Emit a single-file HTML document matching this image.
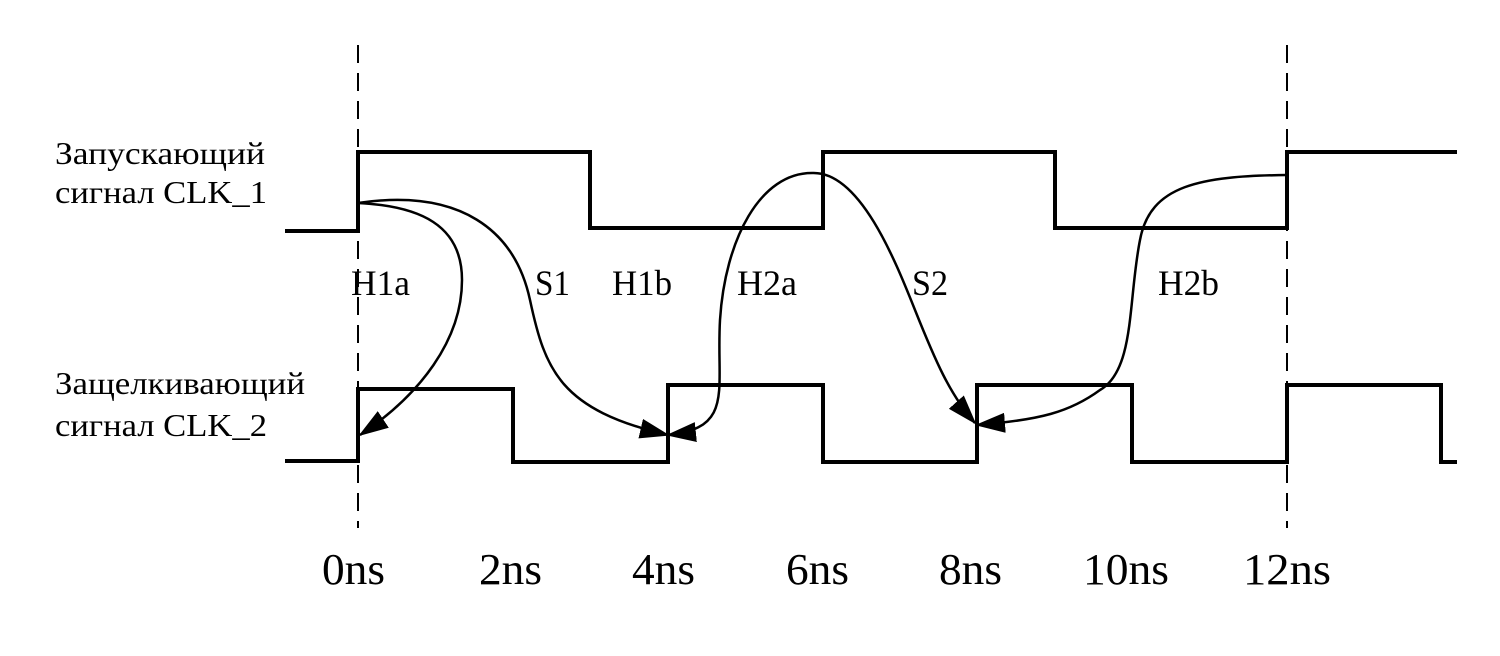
<!DOCTYPE html>
<html><head><meta charset="utf-8"><style>
html,body{margin:0;padding:0;background:#fff;}
svg{display:block;}
text{font-family:"Liberation Serif","DejaVu Serif",serif;fill:#000;}
</style></head><body>
<svg width="1500" height="656" viewBox="0 0 1500 656" xmlns="http://www.w3.org/2000/svg">
<defs>
<marker id="ah" markerWidth="30" markerHeight="20" refX="28" refY="10" orient="auto" markerUnits="userSpaceOnUse">
<path d="M0,0 L30,10 L0,20 Z" fill="#000"/>
</marker>
</defs>
<g stroke="#000" stroke-width="2" stroke-dasharray="18,10" fill="none">
<line x1="358" y1="45" x2="358" y2="528"/>
<line x1="1287" y1="45" x2="1287" y2="528"/>
</g>
<g stroke="#000" stroke-width="4" fill="none" stroke-linejoin="miter">
<polyline points="285,231 358,231 358,152 590,152 590,228 823,228 823,152 1055,152 1055,228 1287,228 1287,152 1457,152"/>
<polyline points="285,461 358,461 358,389 513,389 513,462 668,462 668,385 823,385 823,462 977,462 977,385 1132,385 1132,462 1287,462 1287,385 1441,385 1441,462 1457,462"/>
</g>
<g stroke="#000" stroke-width="2.5" fill="none">
<path d="M358,203 C420,206 462,225 462,280 C462,340 420,395 360,435" marker-end="url(#ah)"/>
<path d="M358,203 C460,188 515,230 530,300 C545,370 560,410 668,435" marker-end="url(#ah)"/>
<path d="M813,173 C760,172 725,240 720,320 C716,390 735,428 668,435" marker-end="url(#ah)"/>
<path d="M813,173 C860,172 895,260 915,310 C935,360 950,395 975,423" marker-end="url(#ah)"/>
<path d="M1287,175 C1200,176 1150,185 1140,240 C1128,300 1135,370 1100,390 C1070,412 1040,420 977,425" marker-end="url(#ah)"/>
</g>
<g font-size="32">
<text x="55" y="164" textLength="210" lengthAdjust="spacingAndGlyphs">Запускающий</text>
<text x="55" y="203" textLength="212" lengthAdjust="spacingAndGlyphs">сигнал CLK_1</text>
<text x="55" y="394" textLength="250" lengthAdjust="spacingAndGlyphs">Защелкивающий</text>
<text x="55" y="436" textLength="212" lengthAdjust="spacingAndGlyphs">сигнал CLK_2</text>
</g>
<g font-size="36">
<text x="351" y="295" textLength="59" lengthAdjust="spacingAndGlyphs">H1a</text>
<text x="535" y="295" textLength="35" lengthAdjust="spacingAndGlyphs">S1</text>
<text x="612" y="295" textLength="60" lengthAdjust="spacingAndGlyphs">H1b</text>
<text x="737" y="295" textLength="60" lengthAdjust="spacingAndGlyphs">H2a</text>
<text x="912" y="295" textLength="36" lengthAdjust="spacingAndGlyphs">S2</text>
<text x="1158" y="295" textLength="61" lengthAdjust="spacingAndGlyphs">H2b</text>
</g>
<g font-size="44">
<text x="322" y="584" textLength="63" lengthAdjust="spacingAndGlyphs">0ns</text>
<text x="479" y="584" textLength="63" lengthAdjust="spacingAndGlyphs">2ns</text>
<text x="632" y="584" textLength="63" lengthAdjust="spacingAndGlyphs">4ns</text>
<text x="786" y="584" textLength="63" lengthAdjust="spacingAndGlyphs">6ns</text>
<text x="939" y="584" textLength="63" lengthAdjust="spacingAndGlyphs">8ns</text>
<text x="1083" y="584" textLength="86" lengthAdjust="spacingAndGlyphs">10ns</text>
<text x="1243" y="584" textLength="88" lengthAdjust="spacingAndGlyphs">12ns</text>
</g>
</svg>
</body></html>
